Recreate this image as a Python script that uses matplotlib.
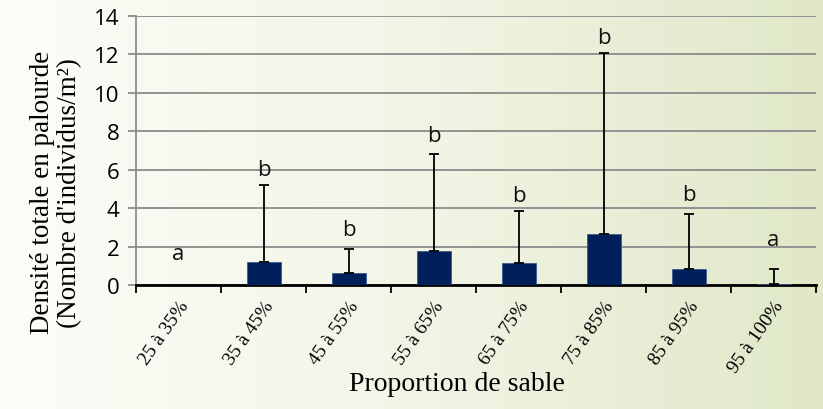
import numpy as np
import matplotlib
matplotlib.use("Agg")
import matplotlib.pyplot as plt
from matplotlib.colors import LinearSegmentedColormap

categories = ["25 à 35%", "35 à 45%", "45 à 55%", "55 à 65%",
              "65 à 75%", "75 à 85%", "85 à 95%", "95 à 100%"]
density = [0.0, 1.2, 0.63, 1.75, 1.12, 2.63, 0.82, 0.07]
err_upper = [0.0, 4.0, 1.26, 5.08, 2.71, 9.44, 2.87, 0.75]
letters = ["a", "b", "b", "b", "b", "b", "b", "a"]
letter_y = [1.35, 5.73, 2.6, 7.5, 4.35, 12.6, 4.4, 2.1]

fig = plt.figure(figsize=(8.23, 4.10), dpi=100)

# background gradient, white-ish on the left to pale green on the right
bg = fig.add_axes([0, 0, 1, 1], zorder=-1)
cmap = LinearSegmentedColormap.from_list("bg", ["#fcfdf8", "#f2f5e6", "#e0e8c8"])
grad = np.linspace(0, 1, 256).reshape(1, -1)
bg.imshow(grad, aspect="auto", cmap=cmap, extent=[0, 1, 0, 1])
bg.axis("off")

ax = fig.add_axes([0.1653, 0.3024, 0.8262, 0.6561])
ax.patch.set_alpha(0)

x = np.arange(len(categories))
ax.bar(x, density, width=0.4, color="#00205b", edgecolor="#3a5a8a",
       linewidth=0.6, zorder=3)
mask = np.array(err_upper) > 0
ax.errorbar(x[mask], np.array(density)[mask],
            yerr=[np.zeros(mask.sum()), np.array(err_upper)[mask]],
            fmt="none", ecolor="black", elinewidth=1.3, capsize=3.5,
            capthick=1.3, zorder=4)

for xi, lab, ly in zip(x, letters, letter_y):
    ax.text(xi, ly, lab, ha="center", va="baseline", fontsize=16,
            family="Open Sans", color="#111111")

ax.set_xlim(-0.5, len(categories) - 0.5)
ax.set_ylim(0, 14)
ax.set_yticks(range(0, 15, 2))
ax.yaxis.grid(True, color="#8c8c8c", linewidth=1.3, zorder=0)
ax.set_axisbelow(True)

ax.set_xticks(np.arange(-0.5, len(categories), 1))
ax.set_xticklabels([])
ax.set_xticks(x, minor=True)
ax.set_xticklabels(categories, minor=True, rotation=55, ha="right",
                   rotation_mode="anchor", family="Liberation Serif",
                   fontsize=14)
ax.tick_params(axis="x", which="minor", length=0, pad=9)
ax.tick_params(axis="x", which="major", length=6, width=1.3, color="black",
               direction="out")
ax.tick_params(axis="y", length=6, width=1.3, color="#8c8c8c",
               labelsize=16, pad=6)
for t in ax.get_yticklabels():
    t.set_family("Open Sans")

for s in ["top", "right"]:
    ax.spines[s].set_visible(False)
ax.spines["left"].set_color("#8c8c8c")
ax.spines["left"].set_linewidth(1.3)
ax.spines["bottom"].set_color("black")
ax.spines["bottom"].set_linewidth(2)

fig.text(0.068, 0.53, "Densité totale en palourde\n(Nombre d'individus/m²)",
         family="Liberation Serif", fontsize=19.5, linespacing=1.1,
         rotation=90, ha="center", va="center", multialignment="center")
fig.text(0.555, 0.062, "Proportion de sable", family="Liberation Serif",
         fontsize=20, ha="center", va="center")

fig.savefig("out.png", dpi=100)
